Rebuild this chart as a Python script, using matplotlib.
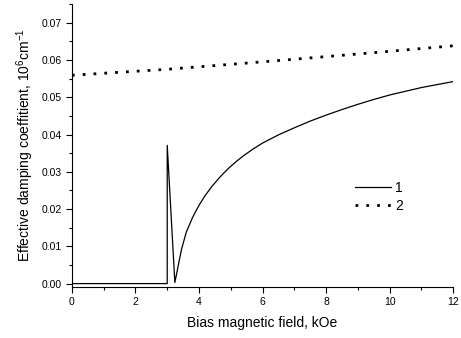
import matplotlib
matplotlib.use("Agg")
import matplotlib.pyplot as plt
from matplotlib.ticker import MultipleLocator

plt.rcParams['font.family'] = ['Liberation Sans', 'DejaVu Sans']
plt.rcParams['mathtext.fontset'] = 'custom'
plt.rcParams['mathtext.rm'] = 'Liberation Sans'

# curve 1
field1 = [0, 3.0, 3.0, 3.24, 3.30, 3.35, 3.45, 3.60, 3.80, 4.00, 4.20, 4.40,
          4.65, 4.90, 5.15, 5.40, 5.70, 6.00, 6.50, 7.00, 7.50, 8.00, 8.50,
          9.00, 9.50, 10.0, 10.5, 11.0, 11.5, 12.0]
damp1 = [0, 0, 0.0371, 0.0003, 0.0028, 0.0050, 0.0092, 0.0138, 0.0178,
         0.0210, 0.0237, 0.0260, 0.0285, 0.0307, 0.0326, 0.0343, 0.0361,
         0.0377, 0.0399, 0.0418, 0.0436, 0.0452, 0.0467, 0.0481, 0.0494,
         0.0506, 0.0516, 0.0526, 0.0534, 0.0542]

# curve 2
field2 = [0, 3, 6, 9, 12]
damp2 = [0.0559, 0.0575, 0.0595, 0.0616, 0.0638]

fig = plt.figure(figsize=(4.61, 3.38), dpi=100)
ax = fig.add_axes([0.156, 0.151, 0.827, 0.837])

ax.plot(field1, damp1, color='black', lw=0.9, label='1')
ax.plot(field2, damp2, color='black', lw=2.0, linestyle=(0, (1, 2.9)), label='2')

ax.set_xlim(0, 12)
ax.set_ylim(-0.0009, 0.075)
ax.xaxis.set_major_locator(MultipleLocator(2))
ax.xaxis.set_minor_locator(MultipleLocator(1))
ax.yaxis.set_major_locator(MultipleLocator(0.01))
ax.yaxis.set_minor_locator(MultipleLocator(0.005))
ax.yaxis.set_major_formatter(plt.FormatStrFormatter('%.2f'))

for s in ['top', 'right']:
    ax.spines[s].set_visible(False)
ax.tick_params(which='major', length=4, width=0.8, labelsize=7.5, direction='out')
ax.tick_params(which='minor', length=2.5, width=0.8, direction='out')

ax.set_xlabel('Bias magnetic field, kOe', fontsize=10, labelpad=6)
ax.set_ylabel('Effective damping coeffitient, 10$^6$cm$^{-1}$', fontsize=10, labelpad=4)

ax.legend(loc='upper left', bbox_to_anchor=(0.71, 0.42), frameon=False,
          fontsize=10, handlelength=2.6, handletextpad=0.3, labelspacing=0.3)

fig.savefig('out.png', dpi=100)
